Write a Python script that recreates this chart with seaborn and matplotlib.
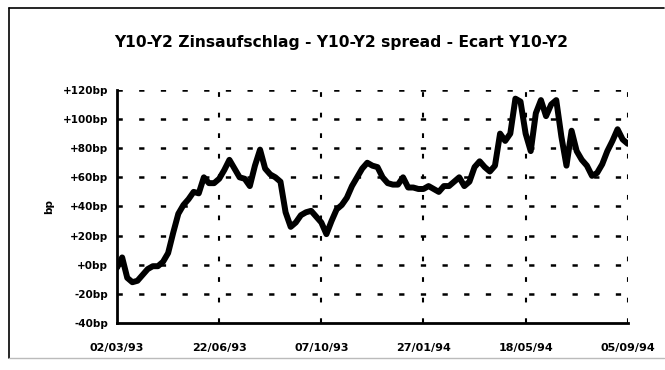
import numpy as np
import pandas as pd
import matplotlib
matplotlib.use("Agg")
import matplotlib.pyplot as plt
from matplotlib.lines import Line2D
import seaborn as sns

# Y10-Y2 spread in basis points, sampled every 4 business days
spread_bp = [
    -2, 5, -9, -12, -11, -7, -3, -1, -1, 2,
    8, 22, 35, 41, 45, 50, 49, 60, 56, 56,
    59, 65, 72, 66, 60, 59, 54, 68, 79, 66,
    62, 60, 57, 36, 26, 29, 34, 36, 37, 33,
    29, 21, 30, 38, 41, 46, 54, 60, 66, 70,
    68, 67, 60, 56, 55, 55, 60, 53, 53, 52,
    52, 54, 52, 50, 54, 54, 57, 60, 54, 57,
    67, 71, 67, 64, 68, 90, 85, 90, 114, 112,
    90, 78, 104, 113, 102, 110, 113, 88, 68, 92,
    78, 72, 68, 61, 63, 69, 78, 85, 93, 86,
    83,
]
step_days = 4
tick_days = [0, 80, 160, 240, 320, 400]
tick_dates = ["02/03/93", "22/06/93", "07/10/93", "27/01/94", "18/05/94", "05/09/94"]
y_ticks = [-40, -20, 0, 20, 40, 60, 80, 100, 120]
y_labels = ["-40bp", "-20bp", "+0bp", "+20bp", "+40bp", "+60bp", "+80bp", "+100bp", "+120bp"]
title = "Y10-Y2 Zinsaufschlag - Y10-Y2 spread - Ecart Y10-Y2"

df = pd.DataFrame({"day": np.arange(len(spread_bp)) * step_days, "bp": spread_bp})

sns.set_style("white")
plt.rcParams["font.family"] = ["DejaVu Sans"]
plt.rcParams["lines.scale_dashes"] = False
plt.rcParams["text.color"] = "black"
plt.rcParams["axes.labelcolor"] = "black"
plt.rcParams["xtick.color"] = "black"
plt.rcParams["ytick.color"] = "black"

fig = plt.figure(figsize=(6.65, 3.7), dpi=100)
ax = fig.add_axes([0.176, 0.127, 0.768, 0.630])

# dashed grid
for y in y_ticks[1:]:
    ax.axhline(y, color="black", lw=1.8, dashes=(3.8, 11.8), zorder=1)
for x in tick_days[1:]:
    ax.axvline(x, color="black", lw=1.5, dashes=(3.4, 11.4), zorder=1)

sns.lineplot(data=df, x="day", y="bp", color="black", lw=4.3, ax=ax,
             zorder=3, solid_joinstyle="round", solid_capstyle="round")

ax.set_xlim(tick_days[0], tick_days[-1])
ax.set_ylim(y_ticks[0], y_ticks[-1])
ax.set_xticks(tick_days)
ax.set_xticklabels(tick_dates, fontsize=8, fontweight="bold", color="black")
ax.set_yticks(y_ticks)
ax.set_yticklabels(y_labels, fontsize=7.5, fontweight="bold", color="black")
ax.tick_params(axis="both", direction="inout", length=7, width=1.8, color="black", pad=3)
ax.tick_params(axis="x", pad=11)
ax.set_xlabel("")
ax.set_ylabel("bp", fontsize=7.5, fontweight="bold", labelpad=6, color="black")

for side in ["top", "right"]:
    ax.spines[side].set_visible(False)
for side in ["left", "bottom"]:
    ax.spines[side].set_color("black")
    ax.spines[side].set_linewidth(2.0)

fig.text(341 / 665, 1 - 42 / 370, title, ha="center", va="center",
         fontsize=11.2, fontweight="bold", color="black")

# chart frame
fig.add_artist(Line2D([9 / 665, 9 / 665], [1 - 8 / 370, 1 - 358 / 370],
                      transform=fig.transFigure, color="black", lw=1.2))
fig.add_artist(Line2D([9 / 665, 664 / 665], [1 - 8 / 370, 1 - 8 / 370],
                      transform=fig.transFigure, color="black", lw=1.2))
fig.add_artist(Line2D([9 / 665, 664 / 665], [1 - 358 / 370, 1 - 358 / 370],
                      transform=fig.transFigure, color="#bbbbbb", lw=1.0))

fig.savefig("out.png", dpi=100, facecolor="white")
